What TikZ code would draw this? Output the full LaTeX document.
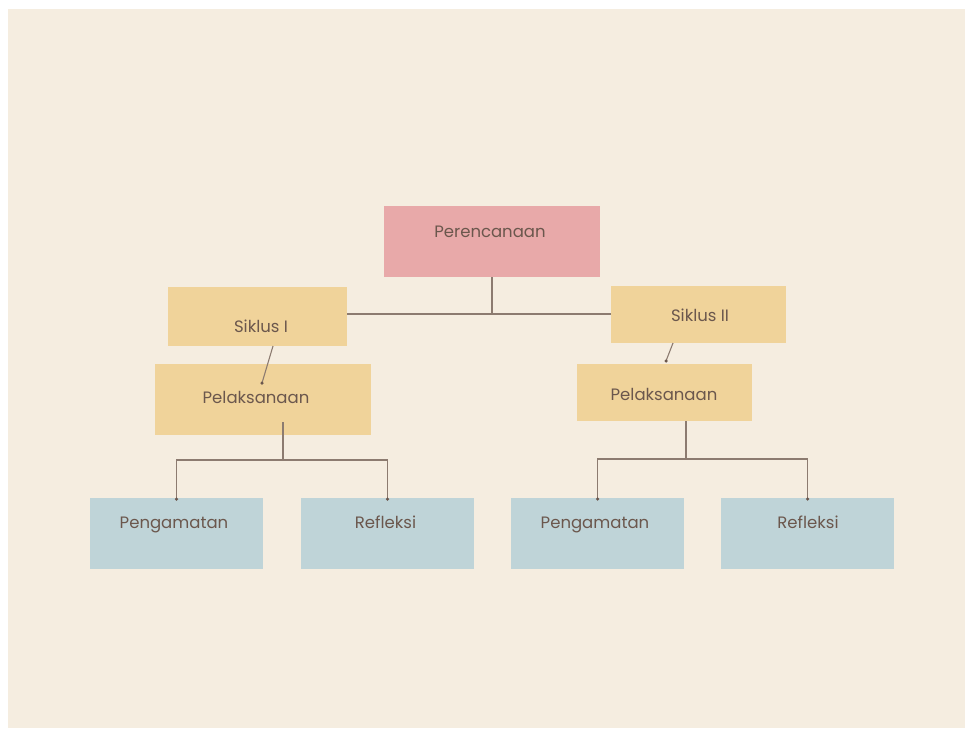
\documentclass[tikz,border=0pt]{standalone}
\usepackage{fontspec}
\setmainfont{Poppins}
\definecolor{bg}{HTML}{F5EDE0}
\definecolor{pinkbox}{HTML}{E8A9A9}
\definecolor{yellowbox}{HTML}{F0D39A}
\definecolor{bluebox}{HTML}{BFD4D8}
\definecolor{txt}{HTML}{6B574D}
\definecolor{ln}{HTML}{8C7B70}
\tikzset{
  box/.style={draw=none, inner sep=0pt, outer sep=0pt},
  pinkb/.style={box, fill=pinkbox, minimum width=216pt, minimum height=71pt},
  yelb/.style={box, fill=yellowbox},
  blueb/.style={box, fill=bluebox, minimum width=173pt, minimum height=71pt},
  lbl/.style={text=txt, font=\fontsize{16.5pt}{19pt}\selectfont, inner sep=0pt, anchor=base},
  conn/.style={draw=ln, line width=1.1pt},
  dotc/.style={circle, fill=txt, minimum size=3.5pt, inner sep=0pt}
}
\begin{document}
\begin{tikzpicture}[x=1pt,y=-1pt]
\useasboundingbox (0,0) rectangle (965,728);
\fill[white] (0,0) rectangle (965,728);
\fill[bg] (8,9) rectangle (965,728);
% boxes
\node[pinkb] (per) at (492,241.5) {};
\node[yelb, minimum width=179pt, minimum height=59pt] (s1) at (257.5,316.5) {};
\node[yelb, minimum width=175pt, minimum height=57pt] (s2) at (698.5,314.5) {};
\node[yelb, minimum width=216pt, minimum height=71pt] (p1) at (263,399.5) {};
\node[yelb, minimum width=175pt, minimum height=57pt] (p2) at (664.5,392.5) {};
\node[blueb] (g1) at (176.5,533.5) {};
\node[blueb] (r1) at (387.5,533.5) {};
\node[blueb] (g2) at (597.5,533.5) {};
\node[blueb] (r2) at (807.5,533.5) {};
% labels
\node[lbl] (tper) at (490,237) {Perencanaan};
\node[lbl] (ts1) at (261,332) {Siklus I};
\node[lbl] (ts2) at (700,321) {Siklus II};
\node[lbl] (tp1) at (256,403) {Pelaksanaan};
\node[lbl] (tp2) at (664,400) {Pelaksanaan};
\node[lbl] (tg1) at (174,528) {Pengamatan};
\node[lbl] (tr1) at (385.5,528) {Refleksi};
\node[lbl] (tg2) at (595,528) {Pengamatan};
\node[lbl] (tr2) at (808,528) {Refleksi};
% connector coordinates
\coordinate (hl) at (s1.east |- 0,314);
\coordinate (hr) at (s2.west |- 0,314);
\coordinate (jtop) at (per.south |- 0,314);
\coordinate (a1) at (273,346);
\coordinate (b1) at (262,383);
\coordinate (a2) at (673,343);
\coordinate (b2) at (666,361);
\coordinate (c1) at (283,422);
\coordinate (d1) at (283,460);
\coordinate (c2) at (686,421);
\coordinate (d2) at (686,459);
% connectors
\draw[conn] (per.south) -- (jtop);
\draw[conn] (hl) -- (hr);
\draw[conn] (a1) -- (b1);
\node[dotc] (db1) at (b1) {};
\draw[conn] (a2) -- (b2);
\node[dotc] (db2) at (b2) {};
\draw[conn] (c1) -- (d1);
\draw[conn] ([yshift=-1pt]g1.north) |- (d1) -| ([yshift=-1pt]r1.north);
\node[dotc] at ([yshift=-1pt]g1.north) {};
\node[dotc] at ([yshift=-1pt]r1.north) {};
\draw[conn] (c2) -- (d2);
\draw[conn] ([yshift=-1pt]g2.north) |- (d2) -| ([yshift=-1pt]r2.north);
\node[dotc] at ([yshift=-1pt]g2.north) {};
\node[dotc] at ([yshift=-1pt]r2.north) {};
\end{tikzpicture}
\end{document}
